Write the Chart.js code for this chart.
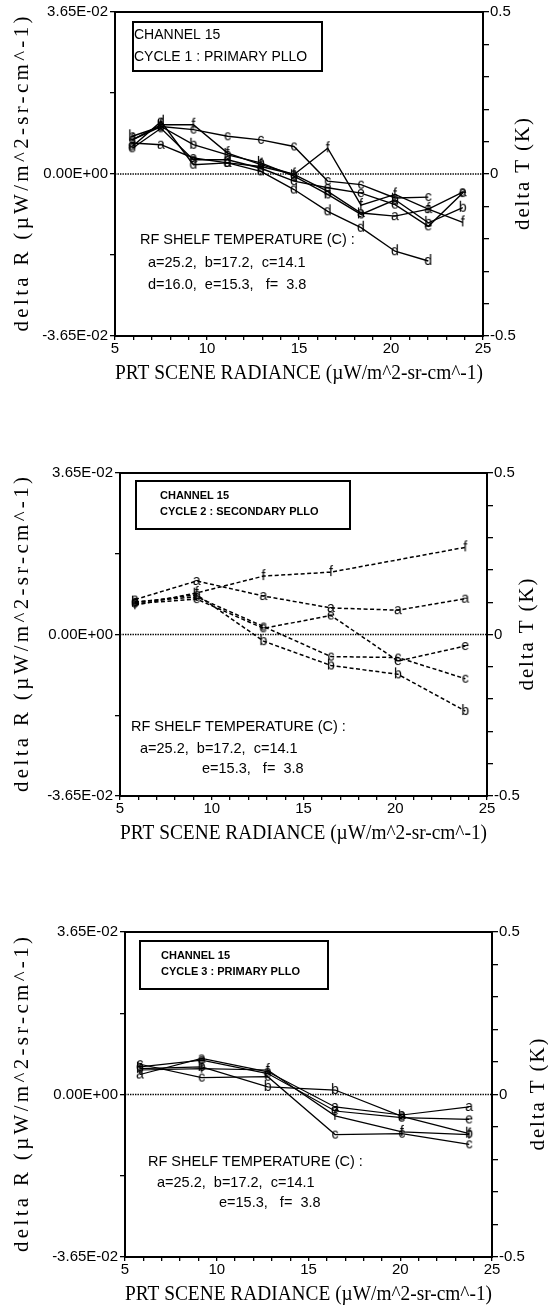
<!DOCTYPE html>
<html><head><meta charset="utf-8">
<script src="https://cdn.jsdelivr.net/npm/chart.js@4"></script>
<style>
html,body{margin:0;padding:0;background:#fff;}
.p{position:absolute;left:0;width:548px;height:436px;}
</style>
</head><body>
<div class="p" style="top:0px"><canvas id="c1" width="548" height="436"></canvas></div>
<div class="p" style="top:436px"><canvas id="c2" width="548" height="436"></canvas></div>
<div class="p" style="top:872px"><canvas id="c3" width="548" height="436"></canvas></div>
<script>
// ---------- DATA ----------
const seriesNames = ['a','b','c','d','e','f'];
// Cycle 1 : Primary PLLO
const x1 = [5.94, 7.5, 9.26, 11.12, 12.93, 14.73, 16.56, 18.37, 20.22, 22.03, 23.9];
const c1a = [0.0070, 0.0066, 0.0036, 0.0025, 0.0017, -0.0001, -0.0039, -0.0088, -0.0095, -0.0079, -0.0041];
const c1b = [0.0085, 0.0107, 0.0066, 0.0043, 0.0025, -0.0005, -0.0046, -0.0091, -0.0058, -0.0110, -0.0076];
const c1c = [0.0077, 0.0107, 0.0100, 0.0085, 0.0077, 0.0062, -0.0016, -0.0024, -0.0054, -0.0052];
const c1d = [0.0062, 0.0118, 0.0021, 0.0025, 0.0006, -0.0035, -0.0084, -0.0121, -0.0174, -0.0196];
const c1e = [0.0058, 0.0103, 0.0032, 0.0032, 0.0013, -0.0016, -0.0031, -0.0043, -0.0069, -0.0118, -0.0043];
const c1f = [0.0077, 0.0111, 0.0111, 0.0047, 0.0021, -0.0001, 0.0058, -0.0070, -0.0046, -0.0079, -0.0109];
// Cycle 2 : Secondary PLLO
const x2 = [5.82, 9.18, 12.82, 16.5, 20.15, 23.82];
const c2a = [0.0079, 0.0121, 0.0087, 0.0060, 0.0055, 0.0081];
const c2b = [0.0072, 0.0090, -0.0015, -0.0070, -0.0090, -0.0173];
const c2c = [0.0074, 0.0085, 0.0018, -0.0050, -0.0052, -0.0100];
const c2e = [0.0070, 0.0080, 0.0014, 0.0043, -0.0060, -0.0026];
const c2f = [0.0066, 0.0094, 0.0132, 0.0141, null, 0.0197];
// Cycle 3 : Primary PLLO
const x3 = [5.82, 9.18, 12.78, 16.45, 20.09, 23.76];
const c3a = [0.0045, 0.0081, 0.0051, -0.0028, -0.0046, -0.0028];
const c3b = [0.0058, 0.0062, 0.0017, 0.0010, -0.0049, -0.0088];
const c3c = [0.0068, 0.0038, 0.0040, -0.0090, -0.0088, -0.0112];
const c3e = [0.0062, 0.0077, 0.0047, -0.0037, -0.0052, -0.0056];
const c3f = [0.0055, 0.0058, 0.0055, -0.0048, -0.0084, -0.0090];
// Ticks
const xTickValues = [5,6,7,8,9,10,11,12,13,14,15,16,17,18,19,20,21,22,23,24,25];
const xTickLabels = ['5','','','','','10','','','','','15','','','','','20','','','','','25'];
const yTickValues = [-0.0365, -0.01825, 0, 0.01825, 0.0365];
const yTickLabels = ['-3.65E-02', '', '0.00E+00', '', '3.65E-02'];
const y2TickValues = [-0.5,-0.4,-0.3,-0.2,-0.1,0,0.1,0.2,0.3,0.4,0.5];
const y2TickLabels = ['-0.5','','','','','0','','','','','0.5'];
// Texts
const xTitle = 'PRT SCENE RADIANCE (µW/m^2-sr-cm^-1)';
const yTitle = 'delta R (µW/m^2-sr-cm^-1)';
const y2Title = 'delta T (K)';
const box1 = ['CHANNEL 15', 'CYCLE 1 : PRIMARY PLLO'];
const box2 = ['CHANNEL 15', 'CYCLE 2 : SECONDARY PLLO'];
const box3 = ['CHANNEL 15', 'CYCLE 3 : PRIMARY PLLO'];
const legend1 = ['RF SHELF TEMPERATURE (C) :', 'a=25.2,  b=17.2,  c=14.1', 'd=16.0,  e=15.3,   f=  3.8'];
const legend2 = ['RF SHELF TEMPERATURE (C) :', 'a=25.2,  b=17.2,  c=14.1', 'e=15.3,   f=  3.8'];
const legend3 = ['RF SHELF TEMPERATURE (C) :', 'a=25.2,  b=17.2,  c=14.1', 'e=15.3,   f=  3.8'];

// ---------- RENDERING ----------
const SANS = '"Liberation Sans", Arial, Helvetica, sans-serif';
const SERIF = '"Liberation Serif", "Times New Roman", serif';

function letterCanvas(ch){
  const c = document.createElement('canvas');
  c.width = 14; c.height = 22;
  const g = c.getContext('2d');
  g.font = '14px ' + SANS;
  g.fillStyle = '#000';
  g.textAlign = 'center';
  g.textBaseline = 'alphabetic';
  g.fillText(ch, 7, 11 + 3.6);
  return c;
}
const markers = {};
seriesNames.forEach(n => markers[n] = letterCanvas(n));

function ds(name, xs, vals, style){
  return {
    label: name,
    data: vals.map((v,i) => ({x: xs[i], y: v})),
    borderColor: '#000',
    backgroundColor: '#000',
    borderWidth: style.lw,
    borderDash: style.dash || [],
    pointStyle: markers[name],
    pointRadius: 3,
    tension: 0,
    spanGaps: true,
    fill: false,
    yAxisID: 'y'
  };
}

const decoPlugin = {
  id: 'deco',
  beforeDatasetsDraw(chart){
    const {ctx, chartArea: a} = chart;
    const y0 = chart.scales.y.getPixelForValue(0);
    ctx.save();
    ctx.strokeStyle = '#000';
    ctx.lineWidth = 1.4;
    ctx.setLineDash([1.4, 1.1]);
    ctx.beginPath(); ctx.moveTo(a.left, y0); ctx.lineTo(a.right, y0); ctx.stroke();
    ctx.restore();
  },
  afterDraw(chart, args, o){
    const {ctx, chartArea: a} = chart;
    ctx.save();
    ctx.strokeStyle = '#000'; ctx.fillStyle = '#000';
    ctx.lineWidth = 2;
    ctx.strokeRect(a.left, a.top, a.right - a.left, a.bottom - a.top);
    // info box
    ctx.strokeRect(a.left + o.box[0], a.top + o.box[1], o.box[2], o.box[3]);
    ctx.font = o.boxFont;
    ctx.textAlign = 'left'; ctx.textBaseline = 'middle';
    o.boxLines.forEach((t, i) => ctx.fillText(t, a.left + o.boxText[0], a.top + o.boxText[1] + i * o.boxGap));
    // legend text
    ctx.font = '14.5px ' + SANS;
    o.legend.forEach((t, i) => ctx.fillText(t, a.left + o.legendPos[i][0], a.top + o.legendPos[i][1]));
    // x title
    ctx.font = '21px ' + SERIF;
    ctx.textAlign = 'center';
    ctx.fillText(xTitle, (a.left + a.right) / 2, a.bottom + 37, a.right - a.left);
    // y titles
    const mid = (a.top + a.bottom) / 2;
    const drawRot = (text, cx, len) => {
      ctx.save();
      ctx.translate(cx, mid);
      ctx.rotate(-Math.PI / 2);
      ctx.font = '21px ' + SERIF;
      const w = ctx.measureText(text).width;
      const sp = Math.max(0, (len - w) / (text.length - 1));
      if ('letterSpacing' in ctx) ctx.letterSpacing = sp.toFixed(2) + 'px';
      ctx.textAlign = 'center';
      ctx.fillText(text, sp / 2, 0);
      ctx.restore();
    };
    drawRot(yTitle, 22, 315);
    drawRot(y2Title, a.right + o.y2Off, 112);
    ctx.restore();
  }
};

function makeChart(id, p){
  const tickFont = {family: SANS, size: 15};
  new Chart(document.getElementById(id), {
    type: 'line',
    data: {datasets: p.datasets},
    plugins: [decoPlugin],
    options: {
      responsive: false,
      animation: false,
      layout: {padding: {top: p.top, left: 0, right: 0, bottom: 0}},
      plugins: {
        legend: {display: false},
        tooltip: {enabled: false},
        deco: p.deco
      },
      scales: {
        x: {
          type: 'linear', position: 'bottom', min: 5, max: 25,
          afterBuildTicks: s => { s.ticks = xTickValues.map(v => ({value: v})); },
          afterFit: s => { s.height = p.bottomH; },
          ticks: {autoSkip: false, maxRotation: 0, color: '#000', font: tickFont, padding: 0,
                  callback: (v, i) => xTickLabels[i]},
          grid: {drawOnChartArea: false, drawTicks: true, tickLength: 4, color: '#000', lineWidth: 1.3},
          border: {color: '#000', width: 2}
        },
        y: {
          type: 'linear', position: 'left', min: -0.0365, max: 0.0365,
          afterBuildTicks: s => { s.ticks = yTickValues.map(v => ({value: v})); },
          afterFit: s => { s.width = p.left; },
          ticks: {autoSkip: false, color: '#000', font: tickFont, padding: 2,
                  callback: (v, i) => yTickLabels[i]},
          grid: {drawOnChartArea: false, drawTicks: true, tickLength: 5, color: '#000', lineWidth: 1.3},
          border: {color: '#000', width: 2}
        },
        y2: {
          type: 'linear', position: 'right', min: -0.5, max: 0.5, display: true,
          afterBuildTicks: s => { s.ticks = y2TickValues.map(v => ({value: v})); },
          afterFit: s => { s.width = 548 - p.right; },
          ticks: {autoSkip: false, color: '#000', font: tickFont, padding: 1,
                  callback: (v, i) => y2TickLabels[i]},
          grid: {drawOnChartArea: false, drawTicks: true, tickLength: 6, color: '#000', lineWidth: 1.3},
          border: {color: '#000', width: 2}
        }
      }
    }
  });
}

const solid1 = {lw: 1.4};
const solid3 = {lw: 1.2};
const dashed = {lw: 1.5, dash: [4, 2.5]};

makeChart('c1', {
  top: 12, bottomH: 100, left: 115, right: 483,
  datasets: [ds('a', x1, c1a, solid1), ds('b', x1, c1b, solid1), ds('c', x1, c1c, solid1),
             ds('d', x1, c1d, solid1), ds('e', x1, c1e, solid1), ds('f', x1, c1f, solid1)],
  deco: {box: [18, 10, 189, 49], boxFont: '14px ' + SANS, boxLines: box1, boxText: [19, 23], boxGap: 22,
         legend: legend1, legendPos: [[25, 228], [33, 251], [33, 273]], y2Off: 40}
});
makeChart('c2', {
  top: 37, bottomH: 76, left: 120, right: 487,
  datasets: [ds('a', x2, c2a, dashed), ds('b', x2, c2b, dashed), ds('c', x2, c2c, dashed),
             ds('e', x2, c2e, dashed), ds('f', x2, c2f, dashed)],
  deco: {box: [16, 8, 214, 48], boxFont: 'bold 11px ' + SANS, boxLines: box2, boxText: [40, 23], boxGap: 16,
         legend: legend2, legendPos: [[11, 254], [20, 276], [82, 296]], y2Off: 40}
});
makeChart('c3', {
  top: 60, bottomH: 51, left: 125, right: 492,
  datasets: [ds('a', x3, c3a, solid3), ds('b', x3, c3b, solid3), ds('c', x3, c3c, solid3),
             ds('e', x3, c3e, solid3), ds('f', x3, c3f, solid3)],
  deco: {box: [15, 9, 188, 48], boxFont: 'bold 11px ' + SANS, boxLines: box3, boxText: [36, 24], boxGap: 16,
         legend: legend3, legendPos: [[23, 230], [32, 251], [94, 271]], y2Off: 46}
});
</script>
</body></html>
